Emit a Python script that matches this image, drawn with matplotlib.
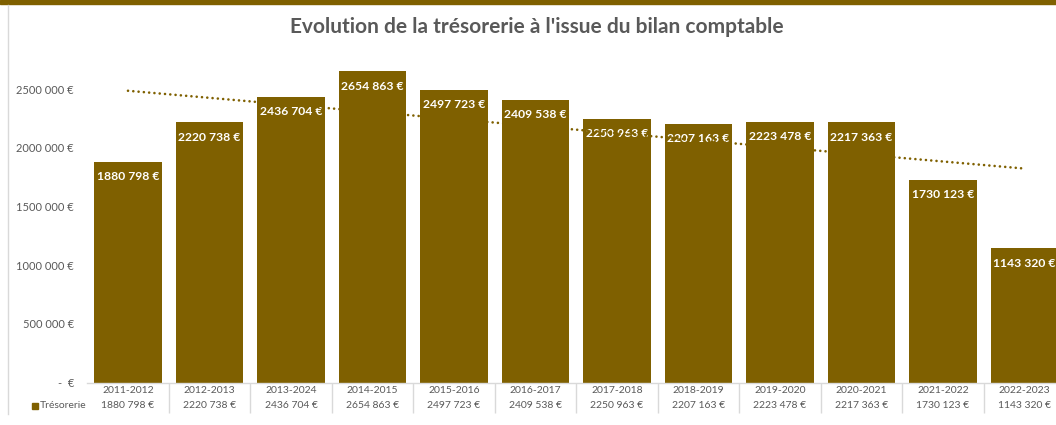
import numpy as np
import matplotlib
matplotlib.use("Agg")
import matplotlib.pyplot as plt
from matplotlib.patches import Rectangle

# Data
periods = ["2011-2012", "2012-2013", "2013-2024", "2014-2015", "2015-2016", "2016-2017",
           "2017-2018", "2018-2019", "2019-2020", "2020-2021", "2021-2022", "2022-2023"]
tresorerie = [1880798, 2220738, 2436704, 2654863, 2497723, 2409538,
              2250963, 2207163, 2223478, 2217363, 1730123, 1143320]
y_ticks = [0, 500000, 1000000, 1500000, 2000000, 2500000]

TITLE = "Evolution de la trésorerie à l'issue du bilan comptable"
GOLD = "#7F6000"
GREY = "#595959"
LINE = "#D9D9D9"
FONT = "Lato"


def euro(v):
    if v == 0:
        return "-  €"
    return f"{v // 1000} {v % 1000:03d} €"


W, H = 1056, 425
fig = plt.figure(figsize=(W / 100, H / 100), dpi=100)
plt.rcParams["font.family"] = [FONT, "DejaVu Sans"]

# axes placed in pixels, the right edge runs past the image like the original
ax = fig.add_axes([87.25 / W, 42.5 / H, 978 / W, 351.8 / H])
x = np.arange(len(periods))
ax.bar(x, tresorerie, width=0.83, color=GOLD, zorder=2)
ax.set_xlim(-0.5, len(periods) - 0.5)
ax.set_ylim(0, 3000000)

for s in ax.spines.values():
    s.set_visible(False)
ax.set_xticks([])
ax.set_yticks(y_ticks)
ax.set_yticklabels([euro(v) for v in y_ticks], fontsize=8, color=GREY)
ax.tick_params(axis="y", length=0, pad=9.5)

# value labels inside bar tops
for xi, v in zip(x, tresorerie):
    ax.annotate(euro(v), (xi, v), xytext=(0, -15), textcoords="offset pixels",
                ha="center", va="center", color="white", fontsize=8.7,
                fontweight="bold", zorder=4)

# linear trendline
fit = np.polyfit(x, tresorerie, 1)
ax.plot(x, np.polyval(fit, x), color=GOLD, lw=1.9, linestyle=(0, (0.01, 2.0)),
        dash_capstyle="round", zorder=5)

# data table below the axis
ax.axhline(0, color=LINE, lw=1, zorder=3, clip_on=False)
tr = ax.get_xaxis_transform()
for xi in x:
    ax.vlines(xi + 0.5, -0.087, 0, transform=tr, color=LINE, lw=1, clip_on=False)
for xi, p, v in zip(x, periods, tresorerie):
    ax.text(xi, -0.024, p, transform=tr, ha="center", va="center", fontsize=7.5, color=GREY)
    ax.text(xi, -0.066, euro(v), transform=tr, ha="center", va="center", fontsize=7.5, color=GREY)

# legend key in the table
fig.patches.append(Rectangle((32 / W, (H - 409) / H), 6 / W, 6 / H, transform=fig.transFigure,
                             color=GOLD))
fig.text(40 / W, (H - 406) / H, "Trésorerie", ha="left", va="center", fontsize=7.5, color=GREY)

# chart frame bits
fig.patches.append(Rectangle((0, (H - 4) / H), 1, 4 / H, transform=fig.transFigure, color=GOLD))
fig.add_artist(plt.Line2D([7.5 / W, 7.5 / W], [(H - 414) / H, (H - 5) / H], color=LINE, lw=1))

fig.text(537 / W, (H - 27) / H, TITLE, ha="center", va="center", fontsize=15,
         fontweight="bold", color=GREY)

fig.savefig("out.png", dpi=100)
